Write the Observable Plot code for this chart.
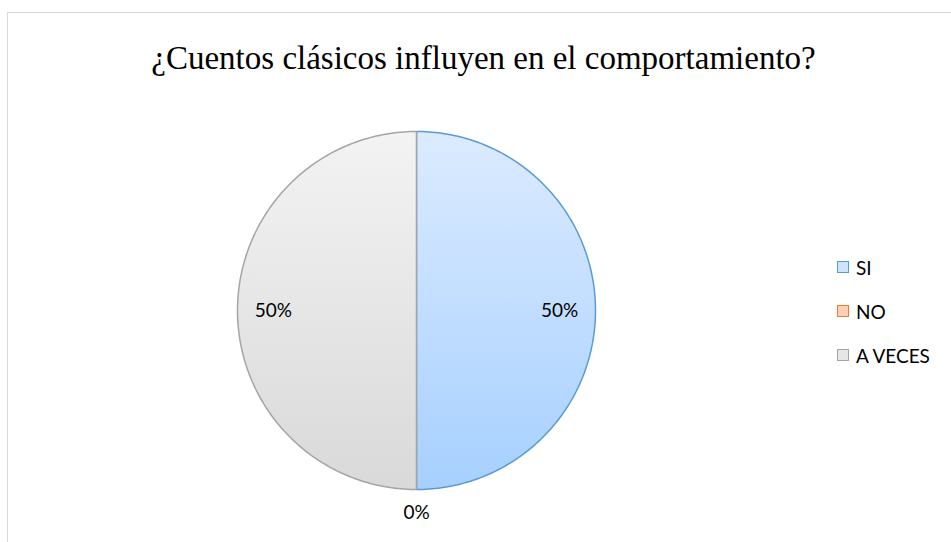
<!DOCTYPE html>
<html>
<head>
<meta charset="utf-8">
<script src="https://cdn.jsdelivr.net/npm/d3@7"></script>
<script src="https://cdn.jsdelivr.net/npm/@observablehq/plot@0.6"></script>
<style>
  html, body { margin: 0; padding: 0; background: #fff; }
  #wrap { position: relative; width: 951px; height: 542px; overflow: hidden; }
  #border { position: absolute; left: 7px; top: 12px; width: 1000px; height: 1000px;
            border: 1.5px solid #d9d9d9; pointer-events: none; }
  #legend { position: absolute; left: 837px; top: 245px; font-family: Lato, "Open Sans", sans-serif;
            font-size: 19px; color: #000; }
  #legend .item { display: flex; align-items: center; height: 44px; }
  #legend .sw { width: 10px; height: 10px; border: 1.5px solid; margin-right: 7px; }
</style>
</head>
<body>
<div id="wrap">
  <div id="chart"></div>
  <div id="border"></div>
  <div id="legend"></div>
</div>
<script>
const title = "¿Cuentos clásicos influyen en el comportamiento?";
const categories = ["SI", "NO", "A VECES"];
const values = [50, 0, 50];
const strokeColors = ["#5b9bd5", "#ed7d31", "#a5a5a5"];
const gradTop = ["#dcebff", "#fbd9c3", "#f3f3f3"];
const gradBottom = ["#a6d0ff", "#f6b48a", "#d9d9d9"];
const swatchFill = ["#cfe4fb", "#fbcfb4", "#e6e6e6"];

const W = 951, H = 542;
const cx = 416, cy = 310, R = 179;

const total = d3.sum(values);
// Excel-style: start at 12 o'clock, clockwise
let acc = 0;
const slices = categories.map((c, i) => {
  const a0 = acc / total * 2 * Math.PI;
  acc += values[i];
  const a1 = acc / total * 2 * Math.PI;
  return {category: c, value: values[i], a0, a1, i};
});

function slicePoints(s) {
  const pts = [{x: 0, y: 0}];
  const n = Math.max(2, Math.ceil((s.a1 - s.a0) / (2 * Math.PI) * 360));
  for (let k = 0; k <= n; k++) {
    const a = s.a0 + (s.a1 - s.a0) * k / n;
    pts.push({x: Math.sin(a), y: Math.cos(a)});
  }
  pts.push({x: 0, y: 0});
  return pts;
}

const labels = slices.map(s => {
  const m = (s.a0 + s.a1) / 2;
  const r = s.value === 0 ? 1.13 : 0.8;
  return {x: r * Math.sin(m), y: r * Math.cos(m), text: Math.round(s.value / total * 100) + "%"};
});

const marks = [];
slices.forEach(s => {
  if (s.value === 0) return;
  marks.push(Plot.line(slicePoints(s), {
    x: "x", y: "y", fill: `url(#grad${s.i})`, stroke: strokeColors[s.i],
    strokeWidth: 1.5, strokeLinejoin: "round"
  }));
});
marks.push(Plot.text(labels, {
  x: "x", y: "y", text: "text", fontSize: 19, fill: "#000",
  fontFamily: "Lato, 'Open Sans', sans-serif"
}));
marks.push(Plot.text([title], {
  frameAnchor: "top-left", dx: 483, dy: 58, lineAnchor: "middle", text: d => d, textAnchor: "middle",
  fontSize: 33, fontFamily: "'Liberation Serif', 'DejaVu Serif', serif", fill: "#000"
}));

const chart = Plot.plot({
  width: W, height: H,
  margin: 0,
  x: {domain: [-cx / R, (W - cx) / R], range: [0, W], axis: null},
  y: {domain: [-(H - cy) / R, cy / R], range: [H, 0], axis: null},
  style: {background: "transparent", overflow: "visible"},
  marks
});

const defs = d3.select(chart).insert("defs", ":first-child");
categories.forEach((c, i) => {
  const g = defs.append("linearGradient").attr("id", `grad${i}`)
    .attr("x1", 0).attr("y1", 0).attr("x2", 0).attr("y2", 1);
  g.append("stop").attr("offset", "0%").attr("stop-color", gradTop[i]);
  g.append("stop").attr("offset", "100%").attr("stop-color", gradBottom[i]);
});

document.getElementById("chart").appendChild(chart);

const legend = d3.select("#legend");
categories.forEach((c, i) => {
  const it = legend.append("div").attr("class", "item");
  it.append("div").attr("class", "sw").style("border-color", strokeColors[i]).style("background", swatchFill[i]);
  it.append("span").text(c);
});
</script>
</body>
</html>
